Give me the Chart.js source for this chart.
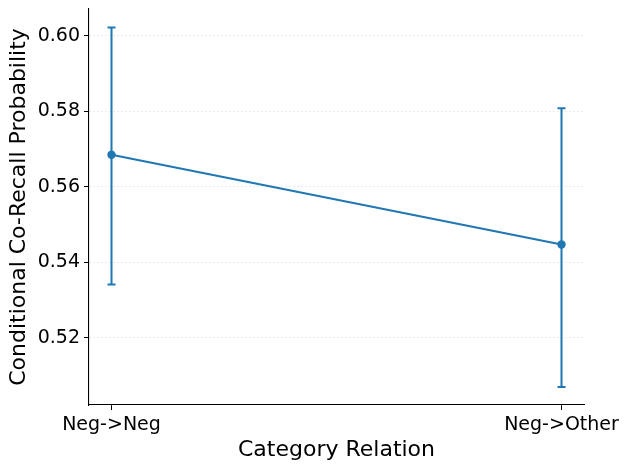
<!DOCTYPE html>
<html>
<head>
<meta charset="utf-8">
<script src="https://cdn.jsdelivr.net/npm/chart.js@4"></script>
<style>
  html, body { margin: 0; padding: 0; background: #fff; }
  #wrap { width: 630px; height: 469px; }
</style>
</head>
<body>
<div id="wrap"><canvas id="chart" width="630" height="469"></canvas></div>
<script>
// valores
var categories = ["Neg->Neg", "Neg->Other"]
var means = [0.5685, 0.5447]
var lower = [0.5341, 0.5070]
var upper = [0.6022, 0.5808]
var yTicks = [0.52, 0.54, 0.56, 0.58, 0.60]

var blue = "#1f77b4"
var font = "'DejaVu Sans', sans-serif"

// barras de error dibujadas con las escalas de Chart.js
var errorBars = {
    id: "errorBars",
    beforeDatasetsDraw: function(chart){
        var ctx = chart.ctx
        var xs = chart.scales.x
        var ys = chart.scales.y
        ctx.save()
        ctx.strokeStyle = blue
        ctx.lineWidth = 2
        for (var i = 0; i < means.length; i++){
            var px = xs.getPixelForValue(i)
            var top = ys.getPixelForValue(upper[i])
            var bot = ys.getPixelForValue(lower[i])
            ctx.beginPath()
            ctx.moveTo(px, top); ctx.lineTo(px, bot)
            ctx.moveTo(px - 4, top); ctx.lineTo(px + 4, top)
            ctx.moveTo(px - 4, bot); ctx.lineTo(px + 4, bot)
            ctx.stroke()
        }
        ctx.restore()
    }
}

var ctx = document.getElementById("chart").getContext("2d")
new Chart(ctx, {
    type: "line",
    data: {
        datasets: [{
            data: means.map(function(v, i){ return {x: i, y: v} }),
            borderColor: blue,
            backgroundColor: blue,
            borderWidth: 2,
            pointRadius: 4.2,
            pointBorderWidth: 0,
            tension: 0
        }]
    },
    options: {
        responsive: false,
        animation: false,
        layout: { padding: { left: 0, right: 46, top: 9, bottom: 0 } },
        plugins: { legend: { display: false }, tooltip: { enabled: false } },
        scales: {
            x: {
                type: "linear",
                min: -0.05,
                max: 1.05,
                afterBuildTicks: function(axis){
                    axis.ticks = categories.map(function(c, i){ return {value: i} })
                },
                afterFit: function(axis){
                    axis.height = 64
                    axis.paddingLeft = 0
                    axis.paddingRight = 0
                },
                ticks: {
                    callback: function(v){ return categories[v] },
                    color: "#000",
                    font: { family: font, size: 19 },
                    maxRotation: 0,
                    padding: 4
                },
                grid: {
                    drawOnChartArea: false,
                    tickLength: 5,
                    tickColor: "#000",
                    tickWidth: 1
                },
                border: { display: true, color: "#000", width: 1.1 },
                title: {
                    display: true,
                    text: "Category Relation",
                    color: "#000",
                    font: { family: font, size: 22 },
                    padding: { top: 0, bottom: 6 }
                }
            },
            y: {
                min: 0.5022,
                max: 0.6071,
                afterBuildTicks: function(axis){
                    axis.ticks = yTicks.map(function(v){ return {value: v} })
                },
                afterFit: function(axis){
                    axis.width = 89
                    axis.paddingTop = 0
                    axis.paddingBottom = 0
                },
                ticks: {
                    callback: function(v){ return v.toFixed(2) },
                    color: "#000",
                    font: { family: font, size: 19 },
                    padding: 4
                },
                grid: {
                    color: "rgba(0,0,0,0.1)",
                    lineWidth: 0.8,
                    tickLength: 5,
                    tickColor: "#000",
                    tickWidth: 1
                },
                border: { display: true, color: "#000", width: 1.1, dash: [2, 2] },
                title: {
                    display: true,
                    text: "Conditional Co-Recall Probability",
                    color: "#000",
                    font: { family: font, size: 22 },
                    padding: { top: 6, bottom: 4 }
                }
            }
        }
    },
    plugins: [errorBars]
})
</script>
</body>
</html>
